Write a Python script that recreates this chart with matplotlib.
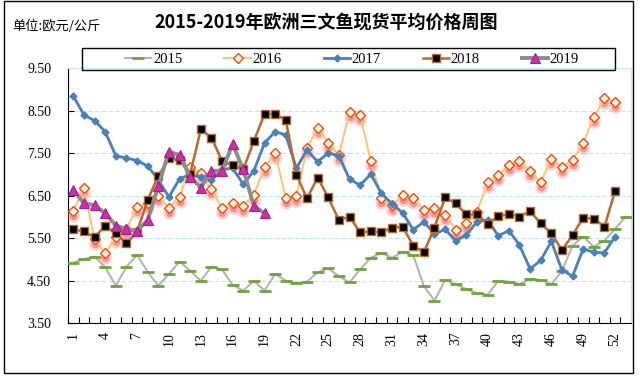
import numpy as np
import matplotlib
matplotlib.use('Agg')
import matplotlib.pyplot as plt
from matplotlib.patches import Rectangle
from matplotlib.transforms import offset_copy

plt.rcParams['font.family'] = ['Liberation Serif', 'Noto Sans CJK SC']

# weekly average prices, EUR/kg
y2015 = [4.93, 5.01, 5.07, 4.82, 4.38, 4.83, 5.11, 4.71, 4.38, 4.66,
         4.95, 4.74, 4.50, 4.83, 4.77, 4.40, 4.27, 4.50, 4.27, 4.66,
         4.50, 4.44, 4.48, 4.70, 4.79, 4.61, 4.46, 4.77, 5.04, 5.16,
         5.04, 5.18, 5.10, 4.38, 4.03, 4.52, 4.42, 4.30, 4.21, 4.17,
         4.50, 4.48, 4.42, 4.54, 4.52, 4.42, 4.73, 5.33, 5.54, 5.30,
         5.44, 5.72, 6.01]
y2016 = [6.15, 6.68, 5.48, 5.15, 5.52, 5.72, 6.23, 6.32, 6.49, 6.22,
         6.48, 7.17, 7.04, 6.65, 6.21, 6.34, 6.27, 6.52, 7.18, 7.51,
         6.44, 6.50, 7.62, 8.09, 7.75, 7.46, 8.46, 8.40, 7.33, 6.44,
         6.28, 6.53, 6.44, 6.17, 6.21, 6.05, 5.70, 5.85, 6.13, 6.82,
         6.99, 7.22, 7.33, 7.08, 6.82, 7.37, 7.17, 7.35, 7.74, 8.35,
         8.79, 8.70]
y2017 = [8.85, 8.40, 8.27, 8.01, 7.44, 7.39, 7.33, 7.20, 6.88, 6.47,
         6.90, 7.00, 6.94, 6.86, 7.12, 7.15, 6.77, 7.09, 7.74, 8.01,
         7.93, 7.15, 7.58, 7.30, 7.51, 7.44, 6.89, 6.75, 7.01, 6.56,
         6.31, 6.10, 5.70, 5.89, 5.60, 5.71, 5.44, 5.58, 5.89, 5.93,
         5.56, 5.68, 5.34, 4.78, 4.98, 5.43, 4.75, 4.61, 5.25, 5.17,
         5.16, 5.54]
y2018 = [5.71, 5.66, 5.52, 5.80, 5.62, 5.38, 5.65, 6.40, 6.97, 7.38,
         7.34, 7.01, 8.06, 7.87, 7.32, 7.22, 7.12, 7.79, 8.42, 8.42,
         8.28, 6.99, 6.44, 6.93, 6.46, 5.93, 6.01, 5.64, 5.66, 5.64,
         5.75, 5.77, 5.33, 5.17, 5.75, 6.46, 6.32, 6.06, 6.06, 5.84,
         6.02, 6.07, 6.01, 6.14, 5.85, 5.62, 5.22, 5.58, 5.98, 5.96,
         5.77, 6.61]
y2019 = [6.64, 6.32, 6.28, 6.09, 5.80, 5.72, 5.67, 5.93, 6.73, 7.54,
         7.46, 6.95, 6.69, 7.09, 7.09, 7.72, 7.12, 6.26, 6.09]

tick_weeks = list(range(1, 53, 3))
y_ticks = [3.5, 4.5, 5.5, 6.5, 7.5, 8.5, 9.5]

def weeks(vals):
    return np.arange(1, len(vals) + 1)

fig = plt.figure(figsize=(6.4, 3.85), dpi=100)
ax = fig.add_axes([68 / 640, 1 - 323.3 / 385, 563 / 640, 255 / 385])

ax.plot(weeks(y2015), y2015, color='#b4b4b4', lw=1.5, marker='_', ms=9,
        mew=2, mec='#6fa33c', label='2015', zorder=3)

# pinkish glow under the 2016 diamonds
sh = offset_copy(ax.transData, fig=fig, x=0, y=-5, units='dots')
ax.plot(weeks(y2016), y2016, 'o', ms=9, color='#ff7070', alpha=0.3,
        mec='none', transform=sh, zorder=3)
ax.plot(weeks(y2016), y2016, 'o', ms=5.5, color='#ff4848', alpha=0.45,
        mec='none', transform=sh, zorder=3)
ax.plot(weeks(y2016), y2016, color='#ffc47a', lw=1.5, marker='D', ms=5,
        mfc='#fff3dc', mec='#f04a10', mew=1, label='2016', zorder=4)

ax.plot(weeks(y2017), y2017, color='#4a80b8', lw=2, marker='D', ms=3.5,
        mfc='#4a80b8', mec='#4a80b8', label='2017', zorder=5)

ax.plot(weeks(y2018), y2018, color='#b8692e', lw=1.8, marker='s', ms=6,
        mfc='black', mec='#b8692e', mew=1, label='2018', zorder=6)

ax.plot(weeks(y2019), y2019, color='#8c8c8c', lw=2.8, marker='^', ms=7,
        mfc='#cc2fa8', mec='#a8208a', mew=0.8, label='2019', zorder=7)

ax.set_xlim(0.5, 53.5)
ax.set_ylim(3.5, 9.5)
ax.set_yticks(y_ticks)
ax.set_yticklabels(['%.2f' % v for v in y_ticks])
ax.set_xticks(tick_weeks)
ax.set_xticklabels([str(w) for w in tick_weeks], rotation=90)
ax.set_xticks(np.arange(0.5, 54, 1), minor=True)
ax.tick_params(axis='x', which='major', length=0, pad=6, labelsize=10)
ax.tick_params(axis='x', which='minor', direction='in', length=4, width=0.8)
ax.tick_params(axis='y', direction='in', length=4, width=0.8, pad=12, labelsize=10)

for v in y_ticks[1:-1]:
    ax.axhline(v, color='#b8eaf2', lw=0.8, ls=(0, (4, 2)), zorder=1)

ax.spines['left'].set_color('black')
ax.spines['bottom'].set_color('black')
ax.spines['top'].set_color('#c4ecf4')
ax.spines['right'].set_color('#c4ecf4')

fig.text(326 / 640, 1 - 23 / 385, '2015-2019年欧洲三文鱼现货平均价格周图',
         ha='center', va='center', fontsize=13, weight='bold',
         family=['Noto Sans CJK SC'])
fig.text(12 / 640, 1 - 26 / 385, '单位:欧元/公斤', ha='left', va='center',
         fontsize=9.5, family=['Noto Sans CJK SC'])

fig.legend(loc='center', bbox_to_anchor=(352 / 640, 1 - 59 / 385), ncol=5,
           frameon=False, fontsize=10.5, handlelength=1.8, handletextpad=0.1,
           columnspacing=2.9)
fig.patches.append(Rectangle((82 / 640, 1 - 70 / 385), 533 / 640, 22 / 385,
                             transform=fig.transFigure, fill=False,
                             ec='black', lw=1, zorder=10))
fig.patches.append(Rectangle((4 / 640, 1 - 373 / 385), 629 / 640, 372 / 385,
                             transform=fig.transFigure, fill=False,
                             ec='black', lw=1))

fig.savefig('out.png', dpi=100)
